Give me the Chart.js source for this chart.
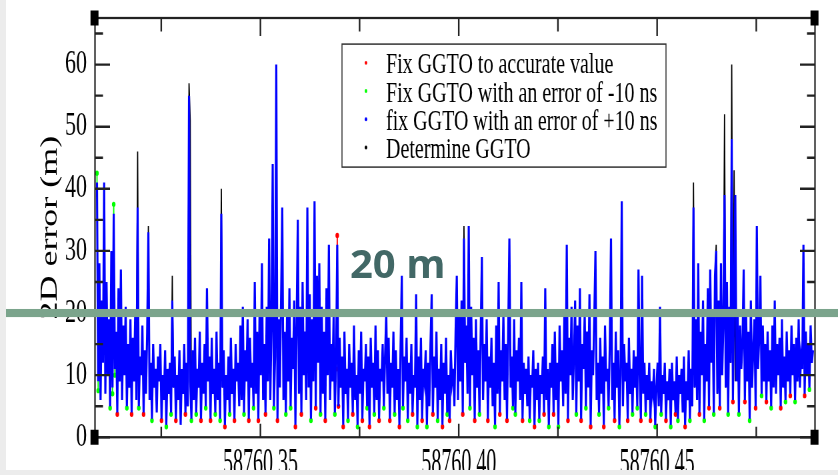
<!DOCTYPE html>
<html>
<head>
<meta charset="utf-8">
<script src="https://cdn.jsdelivr.net/npm/chart.js@4.4.0/dist/chart.umd.min.js"></script>
<style>
  html, body { margin: 0; padding: 0; background: #ececec; }
  #page { position: absolute; left: 6px; top: 0; width: 832px; height: 470px; overflow: hidden; background: #fff; }
  #chart { position: absolute; left: -6px; top: 0; }
  #mark { position: absolute; left: 350px; top: 243px; font: bold 40px 'Open Sans', sans-serif; line-height: 40px; color: #426866; white-space: nowrap; }
</style>
</head>
<body>
<div id="page"><canvas id="chart" width="838" height="317" style="width:838px;height:475px"></canvas></div>
<div id="mark">20 m</div>
<script>
// MJD axis
const X_MIN = 58760.3083;
const X_MAX = 58760.4898;
const T_FIRST = 58760.3088;
const T_LAST = 58760.4893;
const xTickValues = [58760.35, 58760.40, 58760.45];
const xMinorTicks = [58760.325, 58760.375, 58760.425, 58760.475];
const yTickValues = [0, 10, 20, 30, 40, 50, 60];

const seriesLabels = [
  'Fix GGTO to accurate value',
  'Fix GGTO with an error of -10 ns',
  'fix GGTO with an error of +10 ns',
  'Determine GGTO'
];

// fix GGTO +10 ns (blue), 2D error in m
const blueErr = [
  41, 9, 28, 6, 22, 12, 41, 7, 25, 10,   19, 5, 30, 8, 36, 11, 17, 4, 24, 9,
  27, 6, 18, 10, 21, 5, 15, 8, 19, 4,    16, 9, 20, 6, 37, 5, 13, 10, 18, 4,
  14, 7, 17, 33, 6, 12, 3, 15, 8, 11,    4, 13, 9, 15, 3, 10, 6, 14, 2, 11,
  7, 12, 4, 22, 8, 13, 3, 10, 6, 14,     2, 11, 7, 15, 4, 12, 5, 55, 9, 3,
  14, 6, 16, 4, 11, 8, 17, 3, 12, 7,     15, 5, 24, 9, 13, 3, 16, 7, 11, 4,
  17, 6, 12, 3, 36, 8, 14, 2, 10, 6,     13, 4, 16, 7, 11, 3, 15, 9, 12, 5,
  18, 6, 21, 4, 14, 9, 19, 3, 16, 8,     12, 5, 25, 7, 17, 3, 20, 10, 28, 6,
  15, 4, 21, 9, 32, 6, 18, 44, 5, 13,    60, 3, 19, 8, 22, 37, 6, 17, 4, 20,
  9, 24, 5, 16, 11, 22, 2, 18, 35, 7,    21, 4, 25, 10, 17, 6, 37, 8, 23, 3,
  19, 9, 38, 5, 26, 12, 28, 4, 21, 7,    17, 3, 24, 10, 31, 6, 15, 9, 20, 4,
  12, 31, 5, 16, 8, 13, 2, 17, 7, 11,    3, 15, 8, 12, 4, 18, 6, 10, 2, 14,
  7, 17, 3, 11, 9, 15, 5, 13, 2, 16,     8, 12, 4, 18, 6, 14, 3, 11, 9, 15,
  5, 13, 20, 7, 16, 3, 12, 8, 17, 4,     14, 6, 11, 2, 15, 26, 5, 13, 9, 16,
  3, 12, 7, 15, 4, 10, 8, 23, 2, 13,     6, 16, 3, 11, 9, 14, 2, 12, 5, 15,
  23, 4, 13, 8, 17, 3, 11, 6, 15, 2,     12, 7, 16, 4, 10, 3, 14, 9, 11, 5,
  17, 26, 6, 20, 9, 22, 4, 32, 12, 18,   7, 34, 5, 21, 10, 16, 3, 19, 8, 14,
  4, 17, 29, 6, 15, 9, 19, 3, 13, 8,     16, 5, 12, 2, 18, 7, 25, 4, 14, 9,
  20, 6, 15, 3, 17, 32, 8, 13, 5, 19,    4, 14, 9, 16, 6, 25, 3, 12, 7, 11,
  5, 13, 3, 10, 8, 14, 2, 11, 6, 12,     3, 10, 7, 13, 4, 24, 6, 11, 2, 12,
  8, 15, 4, 17, 6, 12, 2, 18, 9, 14,     5, 20, 7, 31, 3, 16, 10, 21, 6, 13,
  22, 4, 18, 9, 24, 3, 15, 11, 20, 5,    17, 8, 23, 2, 14, 10, 19, 30, 6, 12,
  4, 16, 7, 13, 2, 18, 9, 11, 5, 15,     32, 6, 12, 3, 17, 8, 14, 2, 10, 38,
  5, 15, 9, 12, 3, 16, 7, 11, 4, 14,     8, 13, 5, 27, 10, 3, 26, 7, 12, 4,
  10, 6, 12, 3, 9, 7, 11, 2, 8, 12,      5, 21, 4, 10, 7, 12, 3, 9, 6, 11,
  2, 12, 6, 9, 4, 13, 3, 10, 7, 11,      4, 13, 2, 9, 6, 14, 3, 11, 5, 37,
  8, 19, 6, 28, 4, 17, 10, 22, 3, 15,    9, 24, 5, 27, 12, 20, 4, 26, 30, 7,
  22, 5, 28, 10, 18, 39, 8, 25, 4, 21,   12, 48, 6, 24, 39, 9, 20, 4, 18, 11,
  15, 27, 6, 20, 9, 17, 3, 22, 8, 14,    19, 5, 34, 11, 16, 26, 7, 18, 9, 15,
  6, 17, 9, 14, 5, 18, 8, 22, 7, 15,     10, 16, 5, 19, 8, 13, 6, 17, 9, 14,
  7, 18, 10, 15, 6, 16, 9, 19, 8, 13,    11, 31, 7, 17, 10, 15, 8, 18, 12, 14
];

// other solutions, only where they show from under the blue trace
// [first sample index, [values...]]
const blackSegs = [
  [33, [10, 46, 5]], [42, [17, 34, 6]], [62, [4, 26, 8]], [76, [5, 57, 51, 3]],
  [103, [3, 40, 8]], [306, [4, 34, 12]], [498, [5, 41, 8]], [517, [26, 31, 7]],
  [524, [18, 52, 8]], [530, [12, 60, 6, 43, 9]]
];
const redSegs = [
  [200, [11, 32.5, 5]],
  [17, [3.7]], [29, [3.7]], [39, [3.7]], [54, [2.7]], [66, [2.7]], [74, [3.7]], [87, [2.7]],
  [95, [2.7]], [107, [1.7]], [115, [2.7]], [127, [2.7]], [135, [2.7]], [141, [3.7]], [151, [2.7]],
  [166, [1.7]], [171, [3.7]], [183, [4.7]], [191, [2.7]], [206, [1.7]], [214, [3.7]], [222, [2.7]],
  [228, [1.7]], [236, [2.7]], [245, [2.7]], [253, [1.7]], [264, [3.7]], [272, [2.7]], [281, [3.7]],
  [289, [1.7]], [295, [2.7]], [306, [3.7]], [316, [2.7]], [327, [2.7]], [337, [3.7]], [343, [2.7]],
  [356, [2.7]], [366, [1.7]], [374, [3.7]], [382, [3.7]], [394, [2.7]], [405, [2.7]], [413, [1.7]],
  [424, [1.7]], [433, [2.7]], [444, [2.7]], [455, [2.7]], [463, [2.7]], [476, [2.7]], [484, [3.7]],
  [492, [1.7]], [504, [3.7]], [512, [4.7]], [521, [4.7]], [532, [5.7]], [542, [5.7]], [551, [4.7]],
  [560, [5.7]], [572, [4.7]], [580, [6.7]], [592, [6.7]]
];
const greenSegs = [
  [0, [42.5, 7.5]], [13, [7, 37.5, 10]],
  [11, [4.7]], [25, [4.7]], [35, [4.7]], [46, [2.7]], [58, [1.7]], [62, [3.7]], [79, [2.7]],
  [83, [3.7]], [91, [4.7]], [99, [3.7]], [103, [2.7]], [111, [3.7]], [123, [3.7]], [131, [4.7]],
  [148, [4.7]], [158, [3.7]], [162, [4.7]], [179, [2.7]], [187, [3.7]], [199, [3.7]], [210, [2.7]],
  [218, [1.7]], [226, [4.7]], [232, [3.7]], [240, [4.7]], [249, [3.7]], [256, [4.7]], [260, [2.7]],
  [268, [1.7]], [276, [1.7]], [285, [2.7]], [293, [3.7]], [312, [4.7]], [320, [3.7]], [333, [1.7]],
  [348, [4.7]], [350, [3.7]], [362, [2.7]], [370, [2.7]], [378, [1.7]], [386, [1.7]], [401, [3.7]],
  [409, [4.7]], [420, [3.7]], [428, [4.7]], [437, [1.7]], [448, [3.7]], [452, [4.7]], [459, [3.7]],
  [467, [1.7]], [472, [3.7]], [480, [1.7]], [486, [2.7]], [496, [2.7]], [508, [2.7]], [516, [3.7]],
  [528, [3.7]], [537, [3.7]], [546, [2.7]], [556, [6.7]], [564, [4.7]], [576, [5.7]], [584, [5.7]],
  [596, [7.7]]
];

const RED = '#ff0000', GREEN = '#00ff00', BLUE = '#0000ff', BLACK = '#000000';
const SERIF = "'Liberation Serif', 'Times New Roman', serif";

const step = (T_LAST - T_FIRST) / (blueErr.length - 1);
const epochs = blueErr.map((_, i) => T_FIRST + i * step);

function fromSegments(segs) {
  const arr = new Array(blueErr.length).fill(null);
  segs.forEach(([start, vals]) => vals.forEach((v, k) => { arr[start + k] = v; }));
  return arr;
}
function toPoints(vals) {
  return vals.map((v, i) => ({ x: epochs[i], y: v }));
}

const decorations = {
  id: 'decorations',
  afterDraw(chart) {
    const { ctx, chartArea: a, scales: { x, y } } = chart;
    ctx.save();
    // frame
    ctx.strokeStyle = '#222';
    ctx.lineWidth = 1.5;
    ctx.strokeRect(a.left, a.top, a.right - a.left, a.bottom - a.top);
    // inward tick marks on all four sides
    ctx.beginPath();
    ctx.lineWidth = 1.6;
    for (let v = 0; v <= 65; v += 5) {
      const py = y.getPixelForValue(v);
      const len = v % 10 === 0 ? 15 : 8;
      ctx.moveTo(a.left, py); ctx.lineTo(a.left + len, py);
      ctx.moveTo(a.right, py); ctx.lineTo(a.right - len, py);
    }
    xTickValues.concat(xMinorTicks).forEach(t => {
      const px = x.getPixelForValue(t);
      const major = xTickValues.includes(t);
      ctx.moveTo(px, a.bottom); ctx.lineTo(px, a.bottom - (major ? 9 : 7));
      ctx.moveTo(px, a.top); ctx.lineTo(px, a.top + (major ? 12 : 9));
    });
    ctx.stroke();

    // x tick labels, tall condensed like the original figure
    ctx.fillStyle = '#000';
    ctx.font = '20px ' + SERIF;
    ctx.textAlign = 'center';
    ctx.textBaseline = 'alphabetic';
    xTickValues.forEach(t => {
      ctx.save();
      ctx.translate(x.getPixelForValue(t), 316.5);
      ctx.scale(1, 1.35);
      ctx.fillText(t.toFixed(2), 0, 0);
      ctx.restore();
    });

    // legend box
    const bx = 342, by = 29.4, bw = 324, bh = 82;
    ctx.fillStyle = '#fff';
    ctx.fillRect(bx, by, bw, bh);
    ctx.strokeStyle = '#333';
    ctx.lineWidth = 1;
    ctx.strokeRect(bx, by, bw, bh);
    ctx.font = '20px ' + SERIF;
    ctx.textAlign = 'left';
    chart.data.datasets.forEach((ds, i) => {
      const base = 48.9 + i * 18.8;
      ctx.fillStyle = ds.borderColor;
      ctx.beginPath();
      ctx.arc(366, base - 7, 1.3, 0, Math.PI * 2);
      ctx.fill();
      ctx.fillStyle = '#000';
      ctx.fillText(ds.label, 386, base);
    });

    // 20 m threshold band
    const p20 = y.getPixelForValue(20);
    ctx.fillStyle = '#7ba48c';
    ctx.fillRect(0, p20 - 2.7, chart.width, 5.4);

    // corner handles
    ctx.fillStyle = '#000';
    [[a.left, a.top], [a.right, a.top], [a.left, a.bottom], [a.right, a.bottom]].forEach(([cx, cy]) => {
      ctx.fillRect(cx - 4.5, cy - 5, 8, 10);
    });
    ctx.restore();
  }
};

new Chart(document.getElementById('chart'), {
  type: 'line',
  data: {
    datasets: [
      { label: seriesLabels[0], data: toPoints(fromSegments(redSegs)), borderColor: RED, backgroundColor: RED, pointRadius: 1.2, borderWidth: 1.2, order: 2 },
      { label: seriesLabels[1], data: toPoints(fromSegments(greenSegs)), borderColor: GREEN, backgroundColor: GREEN, pointRadius: 1.2, borderWidth: 1.2, order: 1 },
      { label: seriesLabels[2], data: toPoints(blueErr), borderColor: BLUE, backgroundColor: BLUE, pointRadius: 0, borderWidth: 2.1, order: 0 },
      { label: seriesLabels[3], data: toPoints(fromSegments(blackSegs)), borderColor: BLACK, backgroundColor: BLACK, pointRadius: 0, borderWidth: 1.2, order: 3 }
    ]
  },
  options: {
    responsive: false,
    devicePixelRatio: 1.5,
    animation: false,
    spanGaps: false,
    layout: { padding: { top: 12, right: 23, left: 0, bottom: 0 } },
    elements: {
      line: { tension: 0, fill: false },
      point: { borderWidth: 0, hoverRadius: 0 }
    },
    plugins: { legend: { display: false }, tooltip: { enabled: false } },
    scales: {
      x: {
        type: 'linear',
        min: X_MIN,
        max: X_MAX,
        grid: { display: false, drawTicks: false },
        border: { display: false },
        afterBuildTicks: s => { s.ticks = xTickValues.map(v => ({ value: v })); },
        afterFit: s => { s.height = 25.5; s.paddingLeft = 0; s.paddingRight = 0; },
        ticks: { display: false }
      },
      y: {
        min: 0,
        max: 67.5,
        grid: { display: false, drawTicks: false },
        border: { display: false },
        afterBuildTicks: s => { s.ticks = yTickValues.map(v => ({ value: v })); },
        afterFit: s => { s.width = 95; s.paddingTop = 0; s.paddingBottom = 0; },
        ticks: { color: '#000', font: { family: SERIF, size: 22 }, padding: 8 },
        title: {
          display: true,
          text: '2D error (m)',
          color: '#000',
          font: { family: SERIF, size: 24 },
          padding: { top: 36, bottom: 0 }
        }
      }
    }
  },
  plugins: [decorations]
});
</script>
</body>
</html>
